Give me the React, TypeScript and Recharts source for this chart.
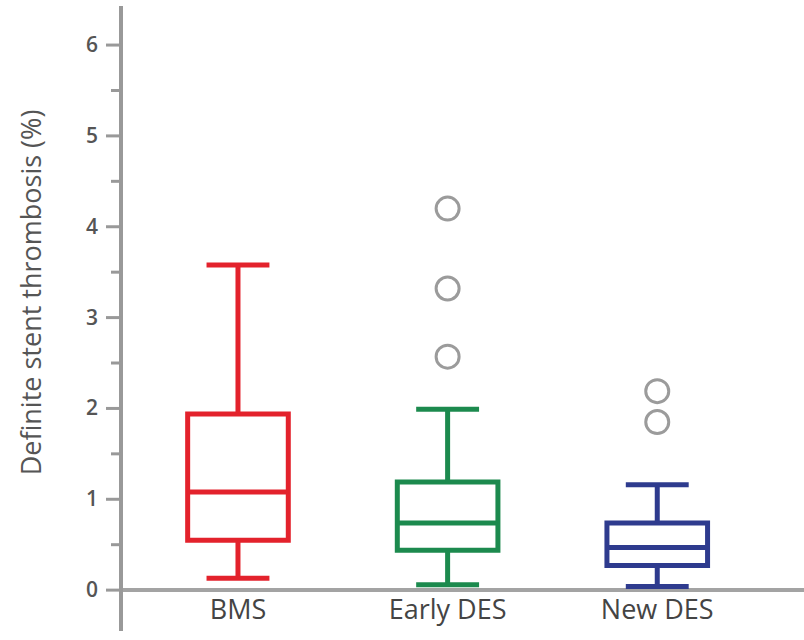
import React from 'react';
import { ComposedChart, XAxis, YAxis, ReferenceLine, ReferenceArea, Scatter } from 'recharts';

const categories = ['BMS', 'Early DES', 'New DES'];
const positions = [1, 2, 3];
const whiskerLow = [0.13, 0.06, 0.04];
const q1 = [0.55, 0.44, 0.27];
const median = [1.08, 0.74, 0.47];
const q3 = [1.94, 1.19, 0.74];
const whiskerHigh = [3.58, 1.99, 1.16];
const colors = ['#e3222c', '#1c8a4e', '#2e3b8e'];

const outlierPos = [2, 2, 2, 3, 3];
const outlierVal = [2.57, 3.32, 4.2, 1.85, 2.19];

const yTicks = [0, 0.5, 1, 1.5, 2, 2.5, 3, 3.5, 4, 4.5, 5, 5.5, 6];

const outliers = outlierPos.map((p, i) => ({ x: p, y: outlierVal[i] }));

const BOX_HALF = 0.24;
const CAP_HALF = 0.15;
const LW = 5;

const YTick = (props: any) => {
  const { x, y, payload } = props;
  const v = payload.value as number;
  const major = Number.isInteger(v);
  const end = x + 23;
  const len = major ? 15 : 10;
  return (
    <g>
      <line x1={end - len} y1={y} x2={end} y2={y} stroke="#999" strokeWidth={3} />
      {major && (
        <text x={x} y={y} dy={7} textAnchor="end" fill="#555" fontSize={21} fontFamily="Open Sans" fontWeight={600}>
          {v}
        </text>
      )}
    </g>
  );
};

const XTick = (props: any) => {
  const { x, y, payload } = props;
  const label = categories[positions.indexOf(payload.value)] ?? '';
  return (
    <text x={x} y={y} dy={-12} textAnchor="middle" fill="#444" fontSize={27} fontFamily="Open Sans">
      {label}
    </text>
  );
};

const OutlierShape = (props: any) => (
  <circle cx={props.cx} cy={props.cy} r={11.5} fill="none" stroke="#9b9b9b" strokeWidth={3} />
);

export default function App() {
  return (
    <div style={{ position: 'absolute', left: 0, top: 0, background: '#fff' }}>
      <ComposedChart width={804} height={640} margin={{ top: 6, right: 0, bottom: 0, left: 0 }}>
        <XAxis
          dataKey="x"
          type="number"
          domain={[0.442, 3.7]}
          ticks={positions}
          axisLine={false}
          tickLine={false}
          tickSize={0}
          tickMargin={0}
          height={9}
          interval={0}
          allowDataOverflow
          tick={<XTick />}
        />
        <YAxis
          type="number"
          domain={[-0.45, 6.43]}
          ticks={yTicks}
          allowDataOverflow
          interval={0}
          width={121}
          axisLine={{ stroke: '#999', strokeWidth: 4 }}
          tickLine={false}
          tickSize={15}
          tickMargin={8}
          tick={<YTick />}
          label={{
            value: 'Definite stent thrombosis (%)',
            angle: -90,
            position: 'insideLeft',
            offset: 31,
            dy: -26,
            fill: '#555',
            fontSize: 27,
            fontFamily: 'Open Sans',
            style: { textAnchor: 'middle' },
          }}
        />
        <ReferenceLine y={0} stroke="#a3a3a3" strokeWidth={4} />
        {positions.map((p, i) => (
          <ReferenceLine
            key={'wl' + i}
            segment={[{ x: p, y: whiskerLow[i] }, { x: p, y: q1[i] }]}
            stroke={colors[i]}
            strokeWidth={LW}
          />
        ))}
        {positions.map((p, i) => (
          <ReferenceLine
            key={'wh' + i}
            segment={[{ x: p, y: q3[i] }, { x: p, y: whiskerHigh[i] }]}
            stroke={colors[i]}
            strokeWidth={LW}
          />
        ))}
        {positions.map((p, i) => (
          <ReferenceLine
            key={'cl' + i}
            segment={[{ x: p - CAP_HALF, y: whiskerLow[i] }, { x: p + CAP_HALF, y: whiskerLow[i] }]}
            stroke={colors[i]}
            strokeWidth={LW}
          />
        ))}
        {positions.map((p, i) => (
          <ReferenceLine
            key={'ch' + i}
            segment={[{ x: p - CAP_HALF, y: whiskerHigh[i] }, { x: p + CAP_HALF, y: whiskerHigh[i] }]}
            stroke={colors[i]}
            strokeWidth={LW}
          />
        ))}
        {positions.map((p, i) => (
          <ReferenceArea
            key={'b' + i}
            x1={p - BOX_HALF}
            x2={p + BOX_HALF}
            y1={q1[i]}
            y2={q3[i]}
            stroke={colors[i]}
            strokeWidth={LW}
            fill="#fff"
            fillOpacity={1}
          />
        ))}
        {positions.map((p, i) => (
          <ReferenceLine
            key={'m' + i}
            segment={[{ x: p - BOX_HALF, y: median[i] }, { x: p + BOX_HALF, y: median[i] }]}
            stroke={colors[i]}
            strokeWidth={LW}
          />
        ))}
        <Scatter data={outliers} dataKey="y" shape={<OutlierShape />} isAnimationActive={false} />
      </ComposedChart>
    </div>
  );
}
